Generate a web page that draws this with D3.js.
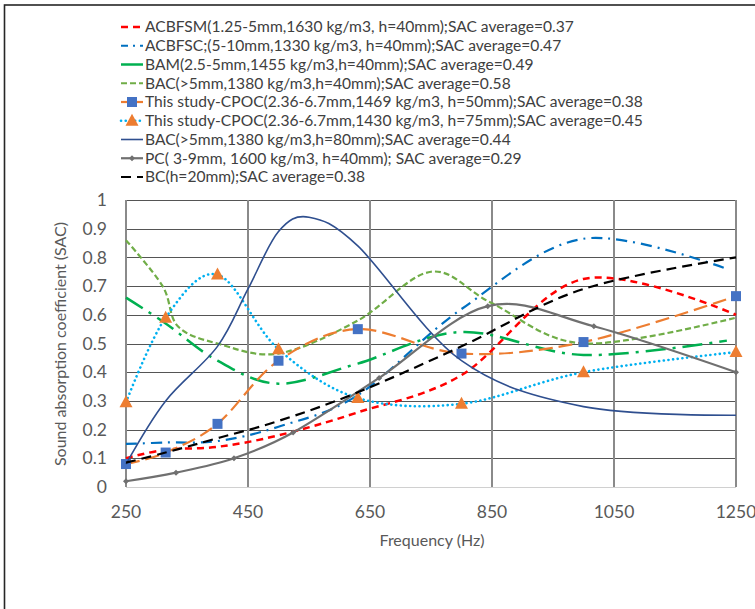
<!DOCTYPE html>
<html lang="en">
<head>
  <meta charset="UTF-8" />
  <title>Sound absorption coefficient</title>
  <style>
    body { margin: 0; background: #fff; }
    svg { display: block; font-family: Lato, 'Open Sans', sans-serif; }
    .grid line { shape-rendering: crispEdges; }
    .legend text { font-size: 15.6px; fill: #404040; }
    .tick-label { font-size: 17.5px; fill: #595959; }
    .axis-title { font-size: 16px; fill: #595959; }
  </style>
</head>
<body>
  <svg id="chart"></svg>

  <script src="https://d3js.org/d3.v7.min.js"></script>
  <script>
    // frequencies (Hz)
    const freqStd = [250, 315, 400, 500, 630, 800, 1000, 1250];
    const freqShort = [250, 315, 400, 500, 630, 800, 1000, 1235];
    const freqBac40 = [250, 310, 335, 400, 500, 630, 750, 850, 1000, 1250];
    const freqBac80 = [250, 315, 400, 450, 500, 550, 630, 800, 1000, 1250];
    const freqPc = [250, 332, 427, 524, 665, 843, 1017, 1250];

    // SAC values
    const acbfsm = [0.10, 0.13, 0.14, 0.18, 0.26, 0.39, 0.725, 0.60];
    const acbfsc = [0.15, 0.155, 0.16, 0.21, 0.32, 0.62, 0.865, 0.76];
    const bam = [0.66, 0.57, 0.44, 0.36, 0.43, 0.54, 0.46, 0.51];
    const bac40 = [0.86, 0.70, 0.56, 0.50, 0.465, 0.58, 0.75, 0.64, 0.50, 0.59];
    const cpoc50 = [0.08, 0.12, 0.22, 0.44, 0.55, 0.465, 0.505, 0.665];
    const cpoc75 = [0.295, 0.59, 0.74, 0.48, 0.31, 0.29, 0.40, 0.47];
    const bac80 = [0.08, 0.30, 0.49, 0.69, 0.89, 0.94, 0.84, 0.44, 0.28, 0.25];
    const pc = [0.02, 0.05, 0.10, 0.19, 0.38, 0.63, 0.56, 0.40];
    const bc = [0.085, 0.12, 0.17, 0.23, 0.33, 0.49, 0.69, 0.80];

    const legendLabels = [
      "ACBFSM(1.25-5mm,1630 kg/m3, h=40mm);SAC average=0.37",
      "ACBFSC;(5-10mm,1330 kg/m3, h=40mm);SAC average=0.47",
      "BAM(2.5-5mm,1455 kg/m3,h=40mm);SAC average=0.49",
      "BAC(>5mm,1380 kg/m3,h=40mm);SAC average=0.58",
      "This study-CPOC(2.36-6.7mm,1469 kg/m3, h=50mm);SAC average=0.38",
      "This study-CPOC(2.36-6.7mm,1430 kg/m3, h=75mm);SAC average=0.45",
      "BAC(>5mm,1380 kg/m3,h=80mm);SAC average=0.44",
      "PC( 3-9mm, 1600 kg/m3, h=40mm); SAC average=0.29",
      "BC(h=20mm);SAC average=0.38"
    ];
    const xTicks = [250, 450, 650, 850, 1050, 1250];
    const yTicks = [0, 0.1, 0.2, 0.3, 0.4, 0.5, 0.6, 0.7, 0.8, 0.9, 1];

    const series = [
      { x: freqStd, y: acbfsm, color: "#ff0000", width: 2.5, dash: "7,5", legDash: "7,5" },
      { x: freqShort, y: acbfsc, color: "#0070c0", width: 2.2, dash: "11,6,2,6", legDash: "7,5,2,5" },
      { x: freqShort, y: bam, color: "#00b050", width: 2.5, dash: "20,7,3,7", legDash: null },
      { x: freqBac40, y: bac40, color: "#70ad47", width: 2.2, dash: "6,3", legDash: "6,3" },
      { x: freqStd, y: cpoc50, color: "#ed7d31", width: 2.2, dash: "14,6", legDash: null, marker: "square", mColor: "#4472c4" },
      { x: freqStd, y: cpoc75, color: "#00b0f0", width: 2.6, dash: "0.1,4.6", legDash: "0.1,4.6", round: true, marker: "triangle", mColor: "#ed7d31" },
      { x: freqBac80, y: bac80, color: "#2f4f8f", width: 1.6, dash: null, legDash: null },
      { x: freqPc, y: pc, color: "#707070", width: 2.2, dash: null, legDash: null, marker: "diamond", mColor: "#707070" },
      { x: freqStd, y: bc, color: "#000000", width: 2.2, dash: "10,6", legDash: "10,6" }
    ];

    const W = 755, H = 609;
    const svg = d3.select("#chart").attr("width", W).attr("height", H);

    // outer frame
    svg.append("rect")
      .attr("x", 4.5).attr("y", 5).attr("width", 900).attr("height", 900)
      .attr("fill", "none").attr("stroke", "#262626").attr("stroke-width", 1.6);

    const x = d3.scaleLinear().domain([250, 1250]).range([126, 736]);
    const y = d3.scaleLinear().domain([0, 1]).range([487, 200]);

    // grid
    const grid = svg.append("g").attr("class", "grid");
    grid.selectAll(".h").data(yTicks).join("line")
      .attr("x1", x(250)).attr("x2", x(1250))
      .attr("y1", d => Math.round(y(d)) + 0.5).attr("y2", d => Math.round(y(d)) + 0.5)
      .attr("stroke", d => d === 0 ? "#d0d0d0" : "#555")
      .attr("stroke-width", 1);
    grid.selectAll(".v").data(xTicks).join("line")
      .attr("y1", y(1)).attr("y2", y(0))
      .attr("x1", d => x(d)).attr("x2", d => x(d))
      .attr("stroke", "#8a8a8a")
      .attr("stroke-width", 1.8);

    // tick labels
    svg.append("g").selectAll("text").data(yTicks).join("text")
      .attr("class", "tick-label")
      .attr("x", 107).attr("y", d => y(d)).attr("dy", "0.35em")
      .attr("text-anchor", "end")
      .text(d => d3.format("~g")(d));
    svg.append("g").selectAll("text").data(xTicks).join("text")
      .attr("class", "tick-label")
      .attr("x", d => x(d)).attr("y", 512).attr("dy", "0.35em")
      .attr("text-anchor", "middle")
      .text(d => d);

    svg.append("text").attr("class", "axis-title")
      .attr("x", 432).attr("y", 540).attr("dy", "0.35em")
      .attr("text-anchor", "middle").text("Frequency (Hz)");
    svg.append("text").attr("class", "axis-title")
      .attr("transform", "translate(60,344) rotate(-90)")
      .attr("dy", "0.35em")
      .attr("text-anchor", "middle").text("Sound absorption coefficient (SAC)");

    // lines
    const line = d3.line().curve(d3.curveCardinal.tension(0));
    const plot = svg.append("g");

    function drawMarker(g, type, cx, cy, color) {
      if (type === "square") {
        g.append("rect").attr("x", cx - 5).attr("y", cy - 5).attr("width", 10).attr("height", 10)
          .attr("fill", color);
      } else if (type === "triangle") {
        g.append("path").attr("d", `M${cx},${cy - 7}L${cx + 6.5},${cy + 5}L${cx - 6.5},${cy + 5}Z`)
          .attr("fill", color);
      } else if (type === "diamond") {
        g.append("path").attr("d", `M${cx},${cy - 3}L${cx + 3},${cy}L${cx},${cy + 3}L${cx - 3},${cy}Z`)
          .attr("fill", color);
      }
    }

    series.forEach(s => {
      const pts = s.x.map((f, i) => [x(f), y(s.y[i])]);
      plot.append("path")
        .attr("d", line(pts))
        .attr("fill", "none")
        .attr("stroke", s.color)
        .attr("stroke-width", s.width)
        .attr("stroke-dasharray", s.dash)
        .attr("stroke-linecap", s.round ? "round" : "butt");
      if (s.marker) {
        const mg = plot.append("g");
        pts.forEach(p => drawMarker(mg, s.marker, p[0], p[1], s.mColor));
      }
    });

    // legend
    const legend = svg.append("g").attr("class", "legend");
    const rowY = d3.scaleLinear().domain([0, 8]).range([27, 177]);
    series.forEach((s, i) => {
      const yy = rowY(i);
      legend.append("line")
        .attr("x1", 121).attr("x2", 143).attr("y1", yy).attr("y2", yy)
        .attr("stroke", s.color).attr("stroke-width", s.width)
        .attr("stroke-dasharray", s.legDash)
        .attr("stroke-linecap", s.round ? "round" : "butt");
      if (s.marker) drawMarker(legend, s.marker, 132, yy, s.mColor);
      legend.append("text")
        .attr("x", 145).attr("y", yy).attr("dy", "0.35em")
        .text(legendLabels[i]);
    });
  </script>
</body>
</html>
